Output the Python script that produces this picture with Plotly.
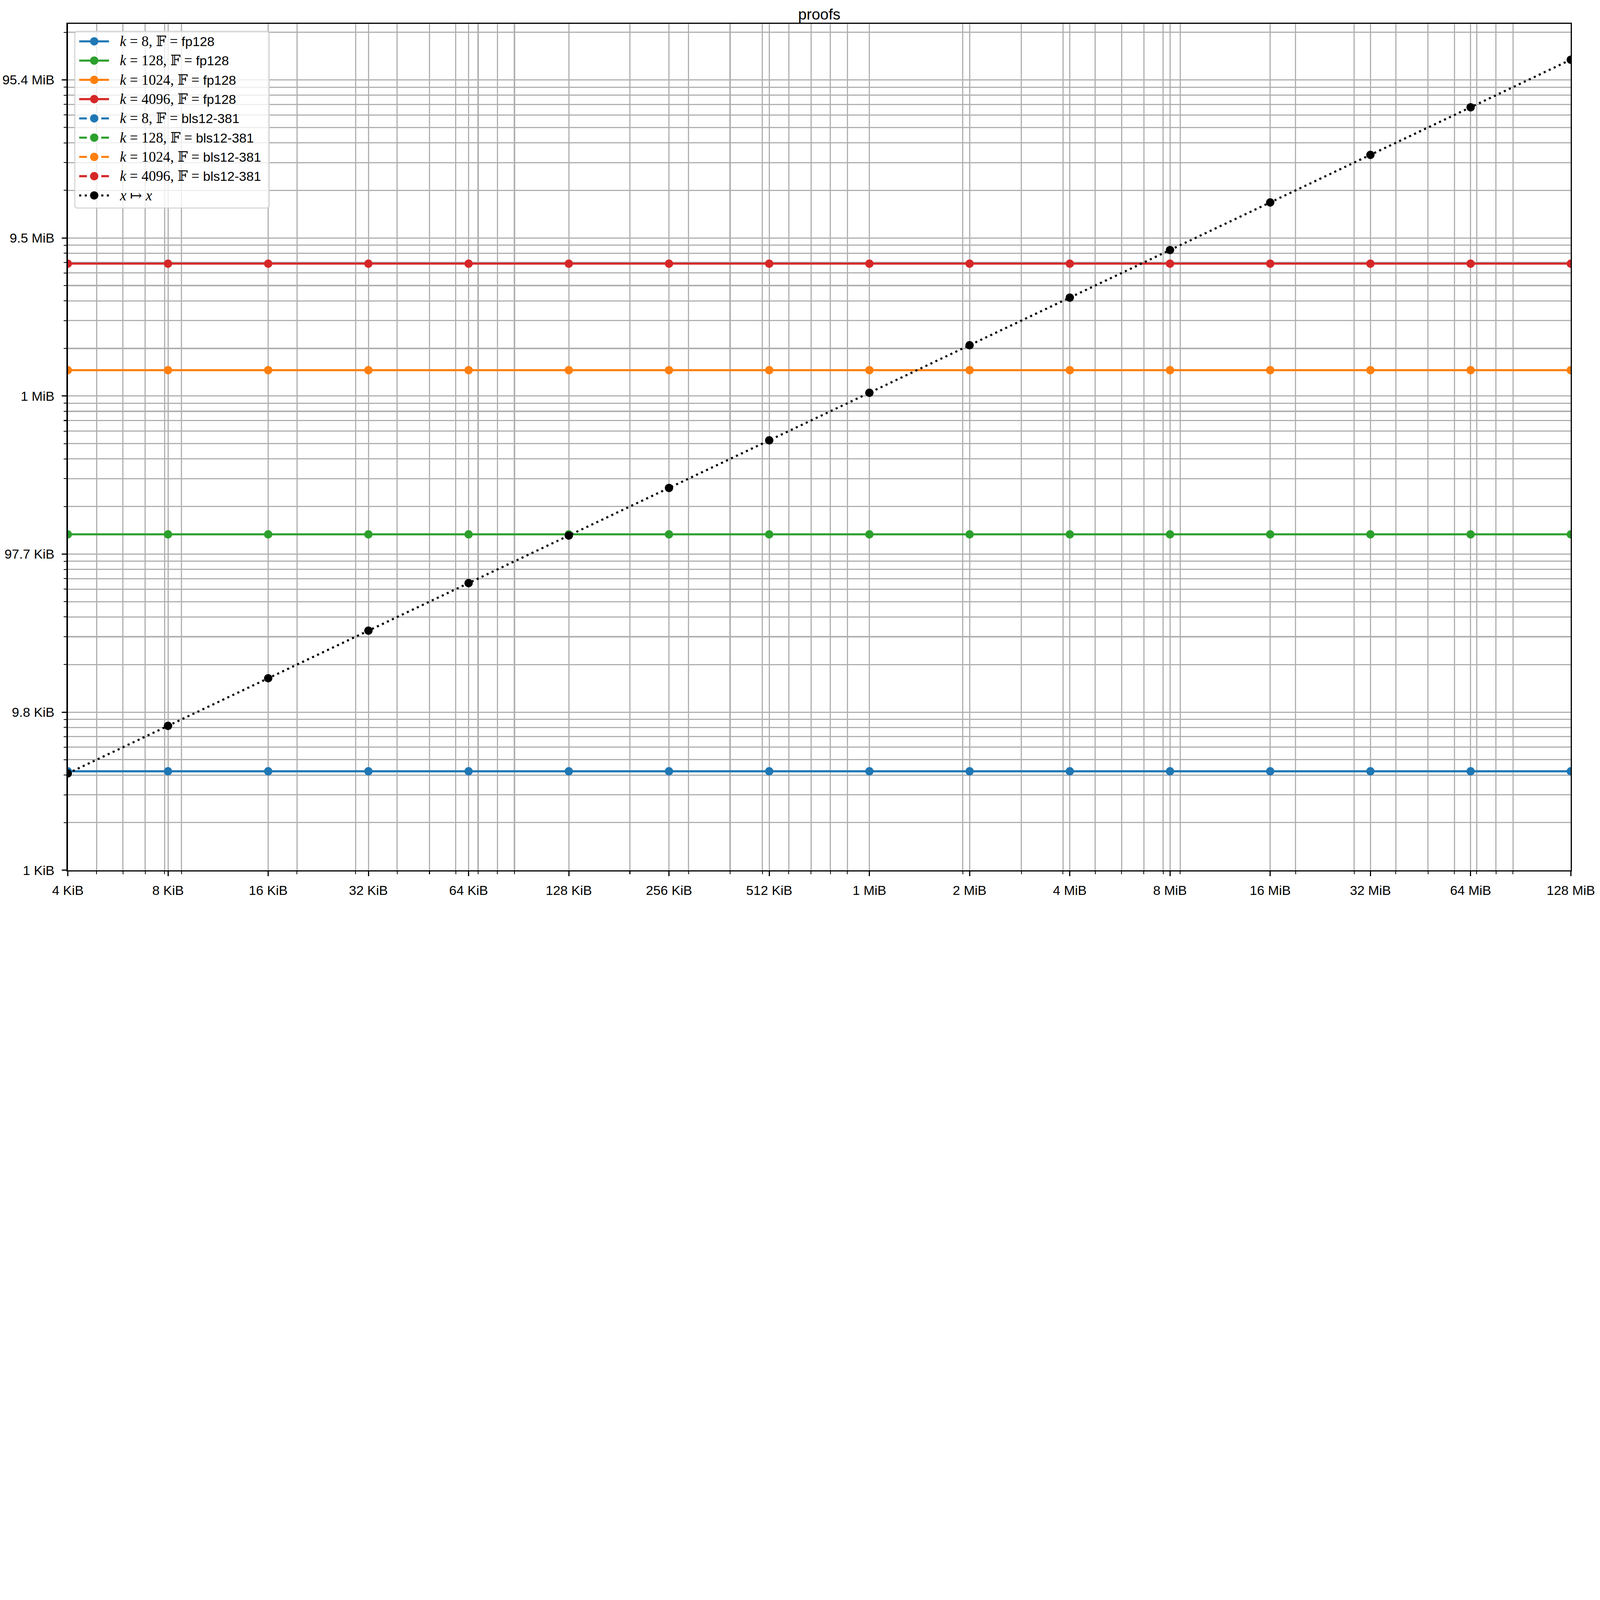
import math
import plotly.graph_objects as go

# figure geometry (pixels)
W, H = 8000, 4500
PLOT_L, PLOT_R, PLOT_T, PLOT_B = 339, 7854, 120, 4368

# input sizes on the x axis (bytes)
sizes_bytes = [4096, 8192, 16384, 32768, 65536, 131072, 262144, 524288,
               1048576, 2097152, 4194304, 8388608, 16777216, 33554432,
               67108864, 134217728]
size_labels = ["4 KiB", "8 KiB", "16 KiB", "32 KiB", "64 KiB", "128 KiB",
               "256 KiB", "512 KiB", "1 MiB", "2 MiB", "4 MiB", "8 MiB",
               "16 MiB", "32 MiB", "64 MiB", "128 MiB"]

# proof sizes (bytes)
proof_k8_fp128 = [4224, 4224, 4224, 4224, 4224, 4224, 4224, 4224,
                  4224, 4224, 4224, 4224, 4224, 4224, 4224, 4224]
proof_k128_fp128 = [133300, 133300, 133300, 133300, 133300, 133300, 133300, 133300,
                    133300, 133300, 133300, 133300, 133300, 133300, 133300, 133300]
proof_k1024_fp128 = [1457500, 1457500, 1457500, 1457500, 1457500, 1457500, 1457500, 1457500,
                     1457500, 1457500, 1457500, 1457500, 1457500, 1457500, 1457500, 1457500]
proof_k4096_fp128 = [6878000, 6878000, 6878000, 6878000, 6878000, 6878000, 6878000, 6878000,
                     6878000, 6878000, 6878000, 6878000, 6878000, 6878000, 6878000, 6878000]
# bls12-381 runs have no points in this chart
proof_k8_bls = []
proof_k128_bls = []
proof_k1024_bls = []
proof_k4096_bls = []
# x -> x reference
identity_bytes = [4096, 8192, 16384, 32768, 65536, 131072, 262144, 524288,
                  1048576, 2097152, 4194304, 8388608, 16777216, 33554432,
                  67108864, 134217728]

y_tickvals = [1e3, 1e4, 1e5, 1e6, 1e7, 1e8]
y_ticktext = ["1 KiB", "9.8 KiB", "97.7 KiB", "1 MiB", "9.5 MiB", "95.4 MiB"]

BLUE, GREEN, ORANGE, RED = "#1f77b4", "#2ca02c", "#ff7f0e", "#d62728"
DOT = "10.4px,17.2px"
DASH = "38.5px,16.6px"
LW = 10.4
MS = 41.7
GRID = "#b0b0b0"
SANS_FONT = "Liberation Sans, Arial, sans-serif"

series = [
    ("k = 8, fp128", proof_k8_fp128, BLUE, "solid"),
    ("k = 128, fp128", proof_k128_fp128, GREEN, "solid"),
    ("k = 1024, fp128", proof_k1024_fp128, ORANGE, "solid"),
    ("k = 4096, fp128", proof_k4096_fp128, RED, "solid"),
    ("k = 8, bls12-381", proof_k8_bls, BLUE, DASH),
    ("k = 128, bls12-381", proof_k128_bls, GREEN, DASH),
    ("k = 1024, bls12-381", proof_k1024_bls, ORANGE, DASH),
    ("k = 4096, bls12-381", proof_k4096_bls, RED, DASH),
]

fig = go.Figure()
for name, vals, color, dash in series:
    fig.add_trace(go.Scatter(
        x=sizes_bytes[:len(vals)], y=vals, name=name,
        mode="lines+markers",
        line=dict(color=color, width=LW, dash=dash),
        marker=dict(size=MS, color=color),
        showlegend=False,
    ))
fig.add_trace(go.Scatter(
    x=sizes_bytes, y=identity_bytes, name="x -> x",
    mode="lines+markers",
    line=dict(color="black", width=LW, dash=DOT),
    marker=dict(size=MS, color="black"),
    showlegend=False,
))


# hand-drawn legend (matplotlib style), positioned in figure pixels
def fx(px):
    return (px - PLOT_L) / (PLOT_R - PLOT_L)


def fy(py):
    return (PLOT_B - py) / (PLOT_B - PLOT_T)


bx0, by0, bx1, by1, rad = 374, 157, 1346, 1044, 14
path = (f"M {fx(bx0 + rad)},{fy(by0)} L {fx(bx1 - rad)},{fy(by0)} "
        f"Q {fx(bx1)},{fy(by0)} {fx(bx1)},{fy(by0 + rad)} "
        f"L {fx(bx1)},{fy(by1 - rad)} Q {fx(bx1)},{fy(by1)} {fx(bx1 - rad)},{fy(by1)} "
        f"L {fx(bx0 + rad)},{fy(by1)} Q {fx(bx0)},{fy(by1)} {fx(bx0)},{fy(by1 - rad)} "
        f"L {fx(bx0)},{fy(by0 + rad)} Q {fx(bx0)},{fy(by0)} {fx(bx0 + rad)},{fy(by0)} Z")
shapes = [dict(type="path", path=path, xref="paper", yref="paper", layer="above",
               fillcolor="rgba(255,255,255,0.8)",
               line=dict(color="rgba(204,204,204,0.8)", width=5.6))]
annotations = []

MATH = "<span style='font-family:Liberation Serif, DejaVu Serif, serif;font-size:72px'>"
legend_rows = [
    (MATH + "<i>k</i> = 8, 𝔽 = </span>fp128", BLUE, "solid"),
    (MATH + "<i>k</i> = 128, 𝔽 = </span>fp128", GREEN, "solid"),
    (MATH + "<i>k</i> = 1024, 𝔽 = </span>fp128", ORANGE, "solid"),
    (MATH + "<i>k</i> = 4096, 𝔽 = </span>fp128", RED, "solid"),
    (MATH + "<i>k</i> = 8, 𝔽 = </span>bls12-381", BLUE, DASH),
    (MATH + "<i>k</i> = 128, 𝔽 = </span>bls12-381", GREEN, DASH),
    (MATH + "<i>k</i> = 1024, 𝔽 = </span>bls12-381", ORANGE, DASH),
    (MATH + "<i>k</i> = 4096, 𝔽 = </span>bls12-381", RED, DASH),
    (MATH + "<i>x</i> ↦ <i>x</i></span>", "black", DOT),
]
row0, row_step = 207, 96.7
hx0, hx1, hxc, tx = 396, 545, 471, 597
for i, (label, color, dash) in enumerate(legend_rows):
    ry = row0 + i * row_step
    shapes.append(dict(type="line", xref="paper", yref="paper", layer="above",
                       x0=fx(hx0), x1=fx(hx1), y0=fy(ry), y1=fy(ry),
                       line=dict(color=color, width=LW, dash=dash)))
    shapes.append(dict(type="circle", xref="paper", yref="paper", layer="above",
                       xsizemode="pixel", ysizemode="pixel",
                       xanchor=fx(hxc), yanchor=fy(ry),
                       x0=-MS / 2, x1=MS / 2, y0=-MS / 2, y1=MS / 2,
                       fillcolor=color, line=dict(width=0)))
    annotations.append(dict(text=label, xref="paper", yref="paper",
                            x=fx(tx), y=fy(ry), xanchor="left", yanchor="middle",
                            showarrow=False,
                            font=dict(family=SANS_FONT, size=66, color="black")))

x_minor = [k * 10 ** n for n in range(3, 9) for k in range(2, 10)
           if 4096 <= k * 10 ** n <= 134217728]
y_minor = [k * 10 ** n for n in range(3, 9) for k in range(2, 10)
           if k * 10 ** n <= 10 ** 8.3537]

axis_common = dict(
    type="log", showline=True, linecolor="black", linewidth=5.6, mirror=True,
    ticks="outside", ticklen=24, tickwidth=5.6, tickcolor="black",
    showgrid=True, gridcolor=GRID, gridwidth=5.6, zeroline=False,
    tickfont=dict(family=SANS_FONT, size=66, color="black"),
)
minor_common = dict(tickmode="array", ticks="outside", ticklen=14, tickwidth=4.2,
                    tickcolor="black", showgrid=True, gridcolor=GRID, gridwidth=5.6)

fig.update_layout(
    width=W, height=H,
    margin=dict(l=PLOT_L, r=W - PLOT_R, t=PLOT_T, b=H - PLOT_B, pad=0),
    paper_bgcolor="white", plot_bgcolor="white",
    showlegend=False,
    title=dict(text="proofs", x=0.5, xref="paper", xanchor="center",
               y=1 - 97 / H, yref="container", yanchor="bottom",
               font=dict(family=SANS_FONT, size=76, color="black")),
    xaxis=dict(**axis_common,
               range=[math.log10(4096), math.log10(134217728)],
               tickmode="array", tickvals=sizes_bytes, ticktext=size_labels,
               ticklabelstandoff=14,
               minor=dict(tickvals=x_minor, **minor_common)),
    yaxis=dict(**axis_common,
               range=[3, 8.3537],
               tickmode="array", tickvals=y_tickvals, ticktext=y_ticktext,
               ticklabelstandoff=24,
               minor=dict(tickvals=y_minor, **minor_common)),
    shapes=shapes,
    annotations=annotations,
)

# the browser screen can be smaller than 8000x4500: scale the page down to fit
fit_js = """
var gd = document.getElementById('{plot_id}');
document.documentElement.style.margin = '0';
document.body.style.margin = '0';
document.body.style.overflow = 'hidden';
var s = Math.min(window.innerWidth / %d, window.innerHeight / %d, 1);
gd.style.transformOrigin = '0 0';
gd.style.transform = 'scale(' + s + ')';
""" % (W, H)

fig.write_html("out.html", post_script=fit_js, config={"displayModeBar": False})
